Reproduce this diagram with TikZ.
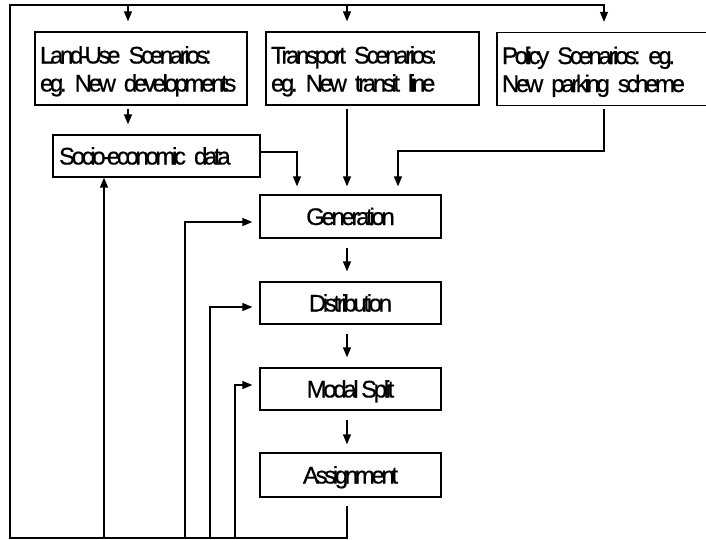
\documentclass[tikz,border=0pt]{standalone}
\usepackage{fontspec}
\setmainfont{Liberation Sans}[LetterSpace=-14, FakeBold=0.6]
\usetikzlibrary{positioning,shapes,arrows.meta}
\frenchspacing
\protected\def\diagfont{\fontsize{24}{28}\selectfont\spaceskip=2.5pt plus 1pt\relax}

\begin{document}
\begin{tikzpicture}[x=1pt,y=-1pt,
  line width=1.3pt,
  every node/.style={font=\diagfont},
  box/.style={draw, rectangle, inner ysep=3pt, text height=23pt},
  scenbox/.style={box, align=left, inner xsep=5pt, minimum height=73pt},
  procbox/.style={box, text depth=6pt, minimum width=181pt},
  arr/.style={-{Triangle[length=10pt,width=8pt]}}]
\useasboundingbox (0,0) rectangle (706,540);

% scenarios
\node[scenbox, minimum width=212pt, text width=202pt] (landuse) at (141,68.5) {Land-Use Scenarios:\\eg. New developments};
\node[scenbox, minimum width=213pt, text width=203pt] (transport) at (372.5,68.5) {Transport Scenarios:\\eg. New transit line};
\node[scenbox, minimum width=223pt, text width=213pt] (policy) at (608.5,69) {Policy Scenarios: eg.\\New parking scheme};
\node[box, align=left, inner xsep=6pt, text depth=6pt, minimum width=207pt, text width=195pt, minimum height=42pt] (socio) at (156.5,156) {Socio-economic data};

% model steps
\node[procbox, minimum height=43pt] (gen) at (350.5,216.5) {Generation};
\node[procbox, minimum height=42pt] (dist) at (350.5,303) {Distribution};
\node[procbox, minimum height=42pt] (modal) at (350.5,389) {Modal Split};
\node[procbox, minimum height=44pt] (assign) at (350.5,475) {Assignment};

\coordinate (tl) at (10,5);
\coordinate (bl) at (10,538);
\coordinate (fb0) at (104,538);
\coordinate (fb1) at (185,538);
\coordinate (fb2) at (210,538);
\coordinate (fb3) at (235,538);

% feedback loop
\draw[arr] ([xshift=-3.5pt,yshift=-8pt]assign.south) |- (bl) -- (tl) -| ([xshift=-4.5pt,yshift=10pt]policy.north);
\draw[arr] ([xshift=-13pt,yshift=27pt]landuse.north) -- ([xshift=-13pt,yshift=10pt]landuse.north);
\draw[arr] ([xshift=-25.5pt,yshift=27pt]transport.north) -- ([xshift=-25.5pt,yshift=10pt]transport.north);
\draw[arr] (fb0) -- (fb0 |- socio.south);
\draw[arr] (fb1) |- ([xshift=-7pt,yshift=-5.5pt]gen.west);
\draw[arr] (fb2) |- ([xshift=-7pt,yshift=-4pt]dist.west);
\draw[arr] (fb3) |- ([xshift=-7pt,yshift=4pt]modal.west);

% inputs
\draw[arr] ([xshift=-13pt,yshift=-3pt]landuse.south) -- ([xshift=-28.5pt,yshift=10pt]socio.north);
\draw[arr] ([yshift=4pt]socio.east) -| ([xshift=-53.5pt,yshift=8pt]gen.north);
\draw[arr] ([xshift=-25.5pt,yshift=-3pt]transport.south) -- ([xshift=-3.5pt,yshift=8pt]gen.north);
\draw[arr] ([xshift=-4.5pt,yshift=-3pt]policy.south) -- ++(0,42) -| ([xshift=47.5pt,yshift=8pt]gen.north);

% steps
\draw[arr] ([xshift=-3.5pt,yshift=-9pt]gen.south) -- ([xshift=-3.5pt,yshift=10pt]dist.north);
\draw[arr] ([xshift=-3.5pt,yshift=-9pt]dist.south) -- ([xshift=-3.5pt,yshift=10pt]modal.north);
\draw[arr] ([xshift=-3.5pt,yshift=-9pt]modal.south) -- ([xshift=-3.5pt,yshift=8pt]assign.north);
\end{tikzpicture}
\end{document}
